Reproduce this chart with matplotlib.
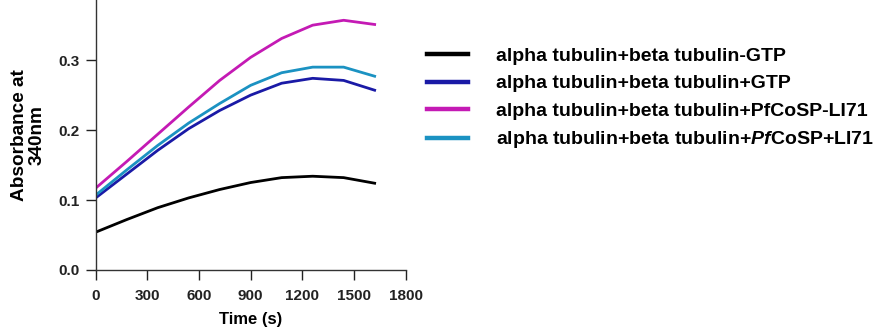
import matplotlib
matplotlib.use("Agg")
import matplotlib.pyplot as plt
from matplotlib.lines import Line2D

plt.rcParams['font.family'] = ['Liberation Sans', 'DejaVu Sans']
plt.rcParams['font.weight'] = 'bold'
plt.rcParams['mathtext.fontset'] = 'custom'
plt.rcParams['mathtext.it'] = 'Liberation Sans:italic:bold'
plt.rcParams['mathtext.rm'] = 'Liberation Sans:bold'

time_s = [0, 180, 360, 540, 720, 900, 1080, 1260, 1440, 1620]
no_gtp = [0.054, 0.072, 0.089, 0.103, 0.115, 0.125, 0.132, 0.134, 0.132, 0.124]
plus_gtp = [0.103, 0.137, 0.171, 0.202, 0.228, 0.250, 0.267, 0.274, 0.271, 0.257]
pfcosp_minus = [0.117, 0.155, 0.194, 0.233, 0.271, 0.304, 0.331, 0.350, 0.357, 0.351]
pfcosp_plus = [0.107, 0.143, 0.178, 0.210, 0.238, 0.264, 0.282, 0.290, 0.290, 0.277]

labels = [
    "alpha tubulin+beta tubulin-GTP",
    "alpha tubulin+beta tubulin+GTP",
    "alpha tubulin+beta tubulin+PfCoSP-LI71",
    r"alpha tubulin+beta tubulin+$\mathit{Pf}$CoSP+LI71",
]
colors = ["#000000", "#1a1aa6", "#c41ab4", "#1b92c2"]
series = [no_gtp, plus_gtp, pfcosp_minus, pfcosp_plus]

fig = plt.figure(figsize=(8.78, 3.30), dpi=100)
ax = fig.add_axes([0.109, 0.182, 0.353, 0.818])

handles = []
for ys, c, lab in zip(series, colors, labels):
    ax.plot(time_s, ys, color=c, lw=2)
    handles.append(Line2D([], [], color=c, lw=3.2, label=lab))

ax.set_xlim(0, 1800)
ax.set_ylim(0, 0.386)
ax.set_xticks([0, 300, 600, 900, 1200, 1500, 1800])
ax.set_yticks([0.0, 0.1, 0.2, 0.3])
ax.set_yticklabels(["0.0", "0.1", "0.2", "0.3"])
for s in ["top", "right"]:
    ax.spines[s].set_visible(False)
for s in ["left", "bottom"]:
    ax.spines[s].set_color("#333333")
    ax.spines[s].set_linewidth(1.0)
ax.tick_params(direction="out", length=7.5, width=1, labelsize=11, colors="#222222")
ax.tick_params(axis="x", pad=6)
ax.tick_params(axis="y", pad=4)
ax.set_xlabel("Time (s)", fontsize=12, fontweight="bold", labelpad=7)
ax.set_ylabel("Absorbance at\n340nm", fontsize=13.7, fontweight="bold", linespacing=1.05,
              labelpad=9)

fig.legend(handles=handles, loc="center left", bbox_to_anchor=(0.486, 0.70),
           frameon=False, fontsize=14, handlelength=2.1, handletextpad=1.45,
           labelspacing=0.5, borderaxespad=0, borderpad=0)

fig.savefig("out.png", dpi=100)
